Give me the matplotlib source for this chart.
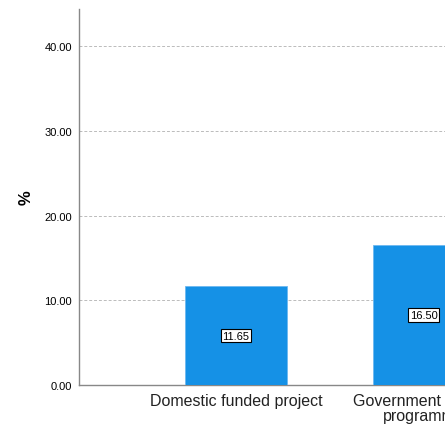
import matplotlib.pyplot as plt

plt.rcParams['font.family'] = ['Liberation Sans', 'DejaVu Sans']

# Share of respondents by funding source
categories = ['Domestic funded project', 'Government funded\nprogramme']
percent = [11.65, 16.50]
yticks = [0, 10, 20, 30, 40]

fig = plt.figure(figsize=(4.45, 4.27), dpi=100)
ax = fig.add_axes([79 / 445, 41 / 427, 366 / 445, 376 / 427])

pos = list(range(len(categories)))
bars = ax.bar(pos, percent, width=0.543, color='#1591E6', edgecolor='#6DB8F0',
              linewidth=0.6, zorder=3)

# value boxes in the middle of each bar
for x, v in zip(pos, percent):
    ax.text(x, v / 2, f'{v:.2f}', ha='center', va='center', fontsize=8, zorder=4,
            bbox=dict(boxstyle='square,pad=0.15', fc='white', ec='black', lw=0.8))

ax.set_xlim(-0.835, 1.112)
ax.set_ylim(0, 44.37)
ax.set_xticks(pos)
ax.set_xticklabels(categories, fontsize=11.5, linespacing=0.95)
ax.set_yticks(yticks)
ax.set_yticklabels([f'{t:.2f}' for t in yticks], fontsize=8)
ax.tick_params(axis='both', length=0, pad=5)
ax.tick_params(axis='x', pad=6, colors='#222222')

ax.yaxis.grid(True, color='#BBBBBB', linestyle=(0, (3, 2)), linewidth=0.7, zorder=0)
for s in ['top', 'right']:
    ax.spines[s].set_visible(False)
for s in ['left', 'bottom']:
    ax.spines[s].set_color('#888888')
    ax.spines[s].set_linewidth(1.0)

ax.set_ylabel('%', fontsize=12, fontweight='bold')
ax.yaxis.set_label_coords(-0.125, 0.5)

fig.savefig('out.png', dpi=100)
